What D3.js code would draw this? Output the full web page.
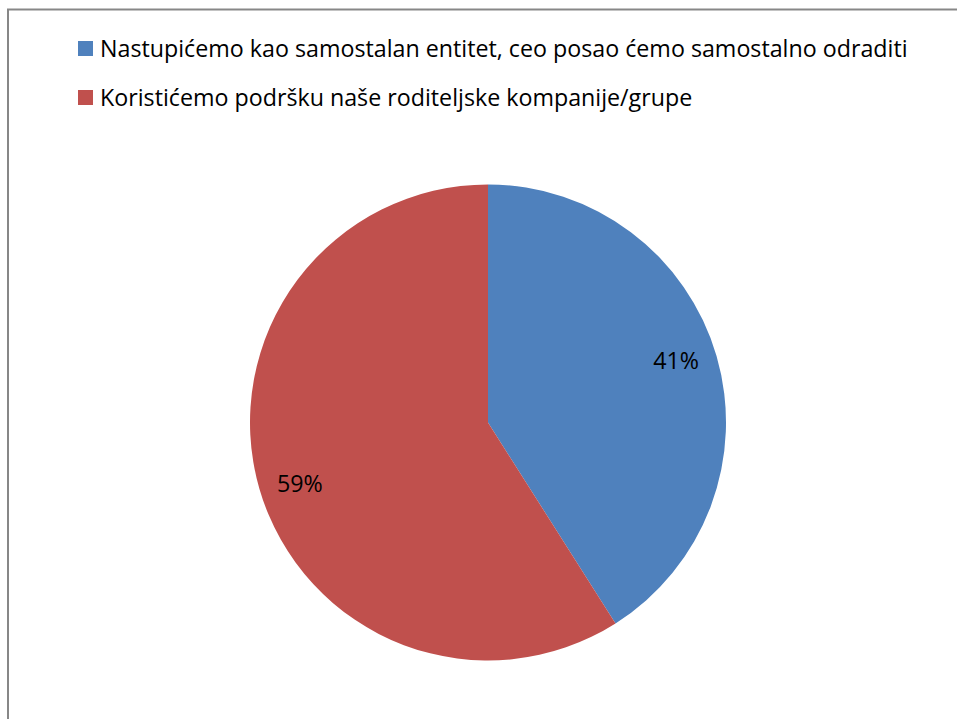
<!DOCTYPE html>
<html><head><meta charset="utf-8">
<script src="https://cdn.jsdelivr.net/npm/d3@7"></script>
<style>html,body{margin:0;padding:0;background:#fff;overflow:hidden}</style>
</head><body>
<svg id="c" width="957" height="719"></svg>
<script>
const categories = ["Nastupićemo kao samostalan entitet, ceo posao ćemo samostalno odraditi",
                    "Koristićemo podršku naše roditeljske kompanije/grupe"];
const values = [41, 59];
const colors = ["#4F81BD", "#C0504D"];

const svg = d3.select("#c");
const font = "Open Sans, sans-serif";

// chart frame (extends past right/bottom edges)
svg.append("rect").attr("x", 8).attr("y", 9.5).attr("width", 1000).attr("height", 800)
  .attr("fill", "none").attr("stroke", "#878787").attr("stroke-width", 2);

// legend
const leg = svg.append("g");
categories.forEach((c, i) => {
  const y = 49 + i * 49;
  leg.append("rect").attr("x", 78).attr("y", y - 8).attr("width", 15).attr("height", 15).attr("fill", colors[i]);
  leg.append("text").attr("x", 100).attr("y", y + 8).attr("font-family", font)
    .attr("font-size", 21).attr("fill", "#000").text(c);
});
const first = leg.selectAll("text").nodes()[0];
const w = first.getComputedTextLength();
const fs = 21 * 808 / w;
leg.selectAll("text").attr("font-size", fs);

// pie
const cx = 488, cy = 422.5, R = 238;
const pie = d3.pie().sort(null).value(d => d)(values);
const arc = d3.arc().innerRadius(0).outerRadius(R);
const labelArc = d3.arc().innerRadius(198).outerRadius(198);
const shift = -2 * Math.PI / 180;
const g = svg.append("g").attr("transform", `translate(${cx},${cy})`);
g.selectAll("path").data(pie).join("path").attr("d", arc).attr("fill", (d, i) => colors[i]);
g.selectAll("text.lbl").data(pie).join("text").attr("class", "lbl")
  .attr("transform", d => `translate(${labelArc.centroid({startAngle: d.startAngle + shift, endAngle: d.endAngle + shift})})`)
  .attr("text-anchor", "middle").attr("dy", "0.35em")
  .attr("font-family", font).attr("font-size", fs).attr("fill", "#000")
  .text(d => d.data + "%");
</script>
</body></html>
